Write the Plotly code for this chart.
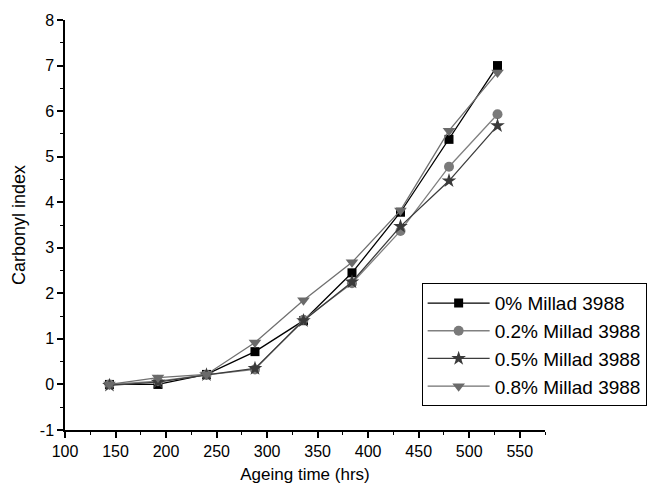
import plotly.graph_objects as go

hours = [144, 192, 240, 288, 336, 384, 432, 480, 528]
s0 = [0.0, 0.0, 0.22, 0.72, 1.40, 2.45, 3.78, 5.38, 7.00]
s02 = [0.0, 0.07, 0.21, 0.33, 1.42, 2.22, 3.37, 4.78, 5.93]
s05 = [-0.02, 0.05, 0.21, 0.35, 1.40, 2.25, 3.47, 4.47, 5.68]
s08 = [0.0, 0.15, 0.22, 0.92, 1.85, 2.68, 3.82, 5.57, 6.85]
names = ["0% Millad 3988", "0.2% Millad 3988", "0.5% Millad 3988", "0.8% Millad 3988"]
x_ticks = [100, 150, 200, 250, 300, 350, 400, 450, 500, 550]
y_ticks = [-1, 0, 1, 2, 3, 4, 5, 6, 7, 8]
y_labels = ["-1", "0", "1", "2", "3", "4", "5", "6", "7", "8"]

series = [s0, s02, s05, s08]
symbols = ["square", "circle", "star", "triangle-down"]
line_colors = ["#000000", "#808080", "#3c3c3c", "#707070"]
marker_colors = ["#000000", "#7a7a7a", "#3a3a3a", "#6a6a6a"]
sizes = [9, 10, 11, 11]

fig = go.Figure()
for ys, nm, sym, lc, mc, sz in zip(series, names, symbols, line_colors, marker_colors, sizes):
    fig.add_trace(go.Scatter(
        x=hours, y=ys, name=nm, mode="lines+markers",
        line=dict(color=lc, width=1.3),
        marker=dict(symbol=sym, size=sz, color=mc, line=dict(width=0)),
    ))

fam = "Liberation Sans, Arial, sans-serif"
fig.update_layout(
    width=665, height=493,
    margin=dict(l=65, r=120, t=20, b=61),
    paper_bgcolor="white", plot_bgcolor="white",
    font=dict(family=fam, size=16, color="#000"),
    showlegend=True,
    legend=dict(
        x=0.743, y=0.358, xanchor="left", yanchor="top",
        bordercolor="#000", borderwidth=1, bgcolor="white",
        font=dict(family=fam, size=19, color="#000"),
        tracegroupgap=0, itemwidth=62,
    ),
    xaxis=dict(
        range=[100, 575], tickmode="array", tickvals=x_ticks,
        showline=True, linecolor="#000", linewidth=1.5,
        ticks="outside", ticklen=6, tickwidth=1.5, tickcolor="#000",
        minor=dict(ticks="outside", ticklen=3, tickwidth=1.2, tickcolor="#000", dtick=25, tick0=100),
        showgrid=False, zeroline=False, mirror=False,
        title=dict(text="Ageing time (hrs)", font=dict(size=17), standoff=9),
    ),
    yaxis=dict(
        range=[-1, 8], tickmode="array", tickvals=y_ticks, ticktext=y_labels,
        showline=True, linecolor="#000", linewidth=1.5,
        ticks="outside", ticklen=6, tickwidth=1.5, tickcolor="#000",
        minor=dict(ticks="outside", ticklen=3, tickwidth=1.2, tickcolor="#000", dtick=0.5, tick0=0),
        showgrid=False, zeroline=False, mirror=False,
        title=dict(text="Carbonyl index", font=dict(size=18), standoff=10),
    ),
)

fig.write_html("out.html")
